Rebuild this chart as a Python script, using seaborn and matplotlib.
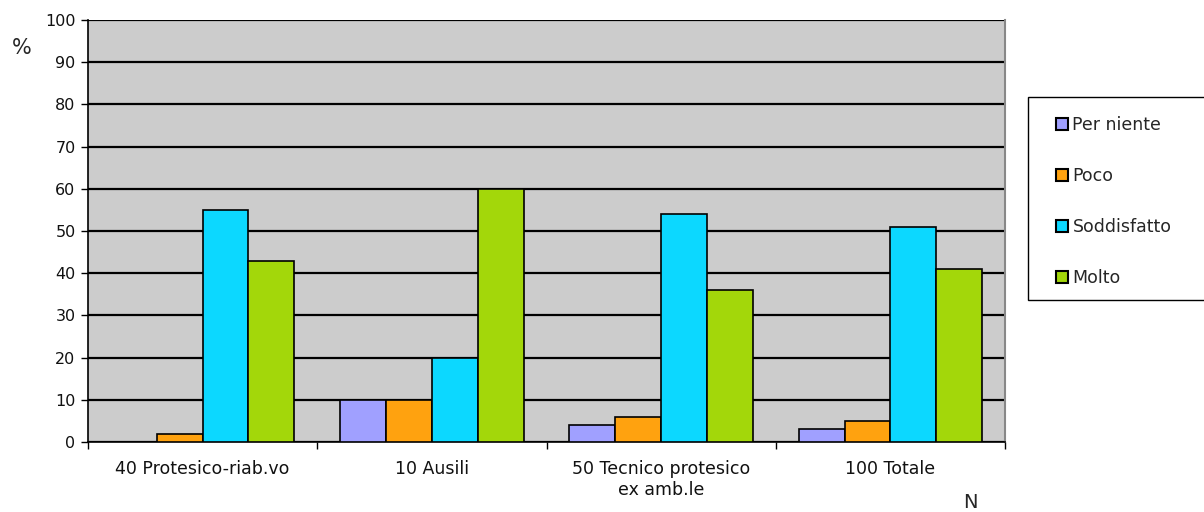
import seaborn as sns
import matplotlib.pyplot as plt
import matplotlib.patches as mpatches
import pandas as pd

# dati
categorie = ['40 Protesico-riab.vo', '10 Ausili', '50 Tecnico protesico\nex amb.le', '100 Totale']
livelli = ['Per niente', 'Poco', 'Soddisfatto', 'Molto']
per_niente = [0, 10, 4, 3]
poco = [2, 10, 6, 5]
soddisfatto = [55, 20, 54, 51]
molto = [43, 60, 36, 41]
colori = ['#a0a0ff', '#ffa20f', '#0cd8ff', '#a3d70a']

righe = []
for liv, valori in zip(livelli, [per_niente, poco, soddisfatto, molto]):
    for cat, v in zip(categorie, valori):
        righe.append({'Categoria': cat, 'Livello': liv, 'Valore': v})
df = pd.DataFrame(righe)

sns.set_style('white')
plt.rcParams['font.family'] = ['DejaVu Sans']

fig = plt.figure(figsize=(12.04, 5.12), dpi=100)
ax = fig.add_axes([88/1204, 70/512, 917/1204, 422/512])
ax.set_facecolor('#cccccc')

sns.barplot(data=df, x='Categoria', y='Valore', hue='Livello', hue_order=livelli,
            palette=colori, edgecolor='black', linewidth=1.2, width=0.8,
            saturation=1, ax=ax, zorder=3)

# griglia
ax.set_ylim(0, 100)
ax.set_yticks(range(0, 101, 10))
ax.yaxis.grid(True, color='black', linewidth=1.6, zorder=0)
ax.set_axisbelow(True)
ax.set_xlim(-0.5, 3.5)

# tick sui confini delle categorie
ax.set_xticks([0, 1, 2, 3])
ax.set_xticklabels(categorie, fontsize=12.5, color='#111111')
ax.set_xticks([-0.5, 0.5, 1.5, 2.5, 3.5], minor=True)
ax.tick_params(axis='x', which='major', length=0, pad=13, bottom=True)
ax.tick_params(axis='x', which='minor', length=5, width=1, color='black',
               direction='out', bottom=True)
ax.tick_params(axis='y', length=5, width=1, color='black', direction='out',
               labelsize=11.5, labelcolor='#111111', pad=4, left=True)

for s in ['left', 'bottom']:
    ax.spines[s].set_color('black')
    ax.spines[s].set_linewidth(1.2)
ax.spines['top'].set_visible(False)
ax.spines['right'].set_color('#888888')
ax.spines['right'].set_linewidth(1.5)

ax.set_xlabel('')
ax.set_ylabel('')
fig.text(22/1204, 1 - 48/512, '%', fontsize=15, ha='center', va='center')
fig.text(970/1204, 1 - 503/512, 'N', fontsize=14, ha='center', va='center')

# legenda (riquadro disegnato a parte)
box = mpatches.Rectangle((1028/1204, 1 - 300/512), 200/1204, 203/512,
                         transform=fig.transFigure, facecolor='white',
                         edgecolor='black', linewidth=1)
fig.patches.append(box)

ax.get_legend().remove()
handles, labels = ax.get_legend_handles_labels()
leg = fig.legend(handles, labels, loc='upper left',
                 bbox_to_anchor=(1056/1204, 1 - 116/512),
                 frameon=False, fontsize=12.5,
                 handlelength=0.7, handleheight=0.7, handletextpad=0.25,
                 labelspacing=1.9, borderpad=0, borderaxespad=0)
for h in leg.legend_handles:
    h.set_edgecolor('black')
    h.set_linewidth(1.5)

fig.savefig('out.png', dpi=100)
